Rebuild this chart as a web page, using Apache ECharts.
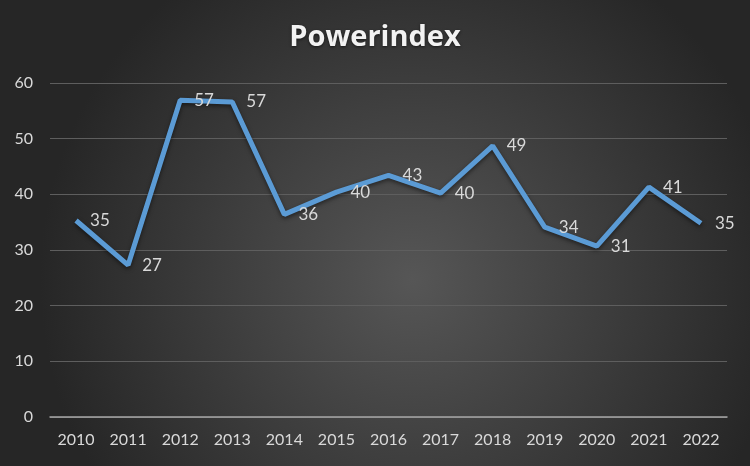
<!DOCTYPE html>
<html><head><meta charset="utf-8">
<script src="https://cdn.jsdelivr.net/npm/echarts@6/dist/echarts.min.js"></script>
<style>html,body{margin:0;padding:0;background:#2b2b2b}#c{width:750px;height:466px}</style>
</head><body><div id="c"></div>
<script>
const categories = ['2010','2011','2012','2013','2014','2015','2016','2017','2018','2019','2020','2021','2022'];
const values = [35.3, 27.3, 56.9, 56.6, 36.4, 40.4, 43.4, 40.2, 48.7, 34.1, 30.7, 41.3, 34.8];
const yTicks = [0, 10, 20, 30, 40, 50, 60];

const chart = echarts.init(document.getElementById('c'));
chart.setOption({
  backgroundColor: {
    type: 'radial', x: 0.55, y: 0.6, r: 0.8,
    colorStops: [{offset: 0, color: '#565656'}, {offset: 1, color: '#262626'}]
  },
  title: {
    text: 'Powerindex', left: 'center', top: 18,
    textStyle: {color: '#f2f2f2', fontFamily: 'Open Sans', fontWeight: 'bold', fontSize: 29,
      textShadowColor: 'rgba(0,0,0,0.6)', textShadowBlur: 3, textShadowOffsetY: 1}
  },
  grid: {left: 50, right: 23, top: 83, bottom: 49},
  xAxis: {
    type: 'category', data: categories, boundaryGap: true,
    axisLine: {lineStyle: {color: '#a6a6a6', width: 1.5}},
    axisTick: {show: false},
    axisLabel: {color: '#d9d9d9', fontFamily: 'Lato', fontSize: 16, margin: 15}
  },
  yAxis: {
    type: 'value', min: yTicks[0], max: yTicks[yTicks.length - 1], interval: 10,
    axisLine: {show: false}, axisTick: {show: false},
    axisLabel: {color: '#d9d9d9', fontFamily: 'Lato', fontSize: 16, margin: 17},
    splitLine: {lineStyle: {color: '#5e5e5e', width: 1.2}}
  },
  series: [{
    type: 'line', data: values,
    symbol: 'circle', symbolSize: 0.1,
    itemStyle: {color: '#5b9bd5'},
    lineStyle: {color: '#5b9bd5', width: 5, shadowColor: 'rgba(0,0,0,0.5)', shadowBlur: 4, shadowOffsetY: 2},
    label: {
      show: true, position: 'right', distance: 14,
      formatter: p => Math.round(p.value),
      color: '#d9d9d9', fontFamily: 'Lato', fontSize: 17
    },
    animation: false
  }]
});
</script></body></html>
